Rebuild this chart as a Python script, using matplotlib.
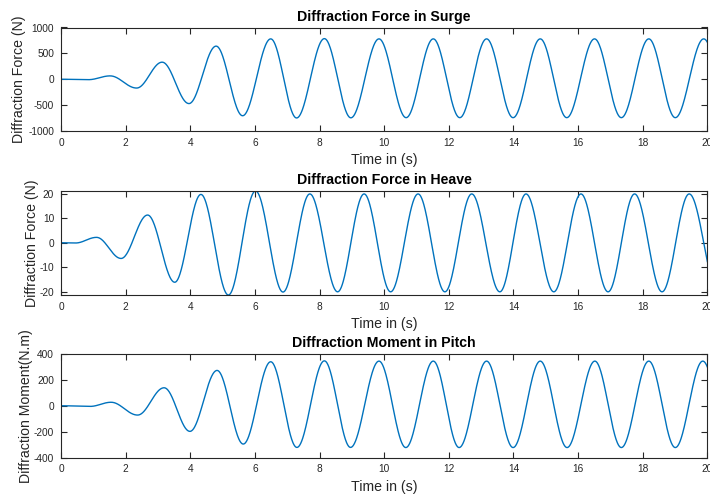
import numpy as np
import matplotlib
matplotlib.use("Agg")
import matplotlib.pyplot as plt

# Extrema (turning points) of each force/moment time history, in seconds and units
surge_t = [0.0, 0.85, 1.52, 2.34, 3.13, 3.96, 4.80, 5.62, 6.49, 7.29, 8.15, 8.97,
           9.84, 10.68, 11.52, 12.34, 13.17, 13.99, 14.83, 15.65, 16.51, 17.34,
           18.19, 19.01, 19.89, 20.73]
surge_v = [0, -8, 65, -170, 330, -470, 640, -705, 780, -748, 785, -745,
           780, -742, 780, -742, 780, -742, 780, -742, 780, -742,
           780, -742, 780, -742]

heave_t = [0.0, 0.45, 1.10, 1.86, 2.68, 3.52, 4.33, 5.18, 6.02, 6.87, 7.70, 8.56,
           9.38, 10.20, 11.05, 11.88, 12.71, 13.58, 14.39, 15.25, 16.09, 16.93,
           17.75, 18.60, 19.44, 20.34]
heave_v = [0, -0.1, 2.2, -6.4, 11.3, -16.1, 19.7, -21.3, 21.1, -20.1, 19.9, -20.0,
           19.9, -20.0, 19.9, -20.0, 19.9, -20.0, 19.9, -20.0, 19.9, -20.0,
           19.9, -20.0, 19.9, -20.0]

pitch_t = [0.0, 0.90, 1.55, 2.37, 3.19, 3.99, 4.83, 5.64, 6.49, 7.30, 8.15, 8.96,
           9.84, 10.67, 11.52, 12.32, 13.17, 13.99, 14.83, 15.66, 16.52, 17.34,
           18.19, 19.01, 19.86, 20.70]
pitch_v = [0, -5, 27, -72, 139, -198, 273, -296, 340, -322, 347, -322,
           345, -323, 345, -323, 345, -323, 345, -323, 345, -323,
           345, -323, 345, -323]

titles = ["Diffraction Force in Surge", "Diffraction Force in Heave",
          "Diffraction Moment in Pitch"]
ylabels = ["Diffraction Force (N)", "Diffraction Force (N)", "Diffraction Moment(N.m)"]
xlabel = "Time in (s)"
xticks = [0, 2, 4, 6, 8, 10, 12, 14, 16, 18, 20]
yticks = [[-1000, -500, 0, 500, 1000], [-20, -10, 0, 10, 20],
          [-400, -200, 0, 200, 400]]
ylims = [(-1000, 1000), (min(heave_v), max(heave_v)), (-400, 400)]


def smooth_through_extrema(tk, yk, n=80):
    """Join successive turning points with half-cosine arcs (zero slope at each)."""
    ts, ys = [], []
    for i in range(len(tk) - 1):
        s = np.linspace(0.0, 1.0, n, endpoint=False)
        ts.append(tk[i] + (tk[i + 1] - tk[i]) * s)
        ys.append(yk[i] + (yk[i + 1] - yk[i]) * (1 - np.cos(np.pi * s)) / 2)
    ts.append([tk[-1]])
    ys.append([yk[-1]])
    return np.concatenate(ts), np.concatenate(ys)


plt.rcParams["font.family"] = ["Liberation Sans", "DejaVu Sans"]
plt.rcParams["axes.unicode_minus"] = False
fig = plt.figure(figsize=(7.10, 4.96), dpi=100)

W, H = 710.0, 496.0
left, right = 61.0, 707.3
boxes = [(27.5, 131.0), (191.0, 295.0), (354.0, 457.5)]
ylabel_x = [19.5, 32.3, 26.0]
series = [(surge_t, surge_v), (heave_t, heave_v), (pitch_t, pitch_v)]

grey = "#262626"
for k in range(3):
    top, bot = boxes[k]
    ax = fig.add_axes([left / W, (H - bot) / H, (right - left) / W, (bot - top) / H])
    t, y = smooth_through_extrema(*series[k])
    ax.plot(t, y, color="#0072BD", lw=1.0)
    ax.set_xlim(0, 20)
    ax.set_ylim(*ylims[k])
    ax.set_xticks(xticks)
    ax.set_yticks(yticks[k])
    ax.tick_params(direction="in", length=4, width=0.8, colors=grey,
                   labelsize=7.3, top=True, right=True, pad=5)
    for sp in ax.spines.values():
        sp.set_color(grey)
        sp.set_linewidth(0.8)
    ax.set_title(titles[k], fontsize=10.2, fontweight="bold", pad=5)
    ax.set_xlabel(xlabel, fontsize=10.2, color=grey)
    ax.set_ylabel(ylabels[k], fontsize=10.2, color=grey)
    ax.xaxis.label.set_va("center")
    ax.yaxis.label.set_va("center")
    ax.xaxis.set_label_coords(0.5, -29.0 / (bot - top))
    ax.yaxis.set_label_coords((ylabel_x[k] - left) / (right - left), 0.5)

fig.savefig("out.png", dpi=100)
